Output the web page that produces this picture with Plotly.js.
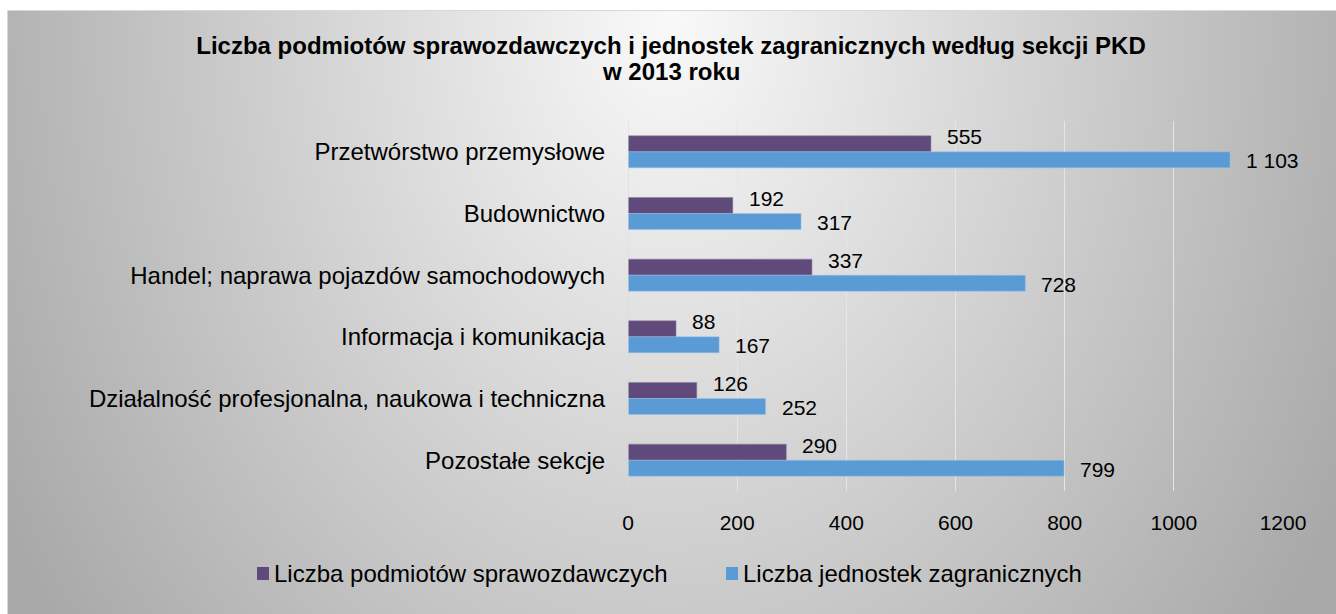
<!DOCTYPE html>
<html>
<head>
<meta charset="utf-8">
<script src="https://cdn.plot.ly/plotly-3.0.1.min.js"></script>
<style>
  html, body { margin: 0; padding: 0; width: 1336px; height: 614px; overflow: hidden; background: #ffffff; }
  #bg { position: absolute; left: 7px; top: 10px; width: 1330px; height: 610px;
        border: 1px solid #d9d9d9; box-sizing: border-box;
        background: radial-gradient(760px 1000px at 661px 10px, #f9f9f9 0%, #a9a9a9 100%); }
  #chart { position: absolute; left: 0; top: 0; width: 1336px; height: 614px; }
</style>
</head>
<body>
<div id="bg"></div>
<div id="chart"></div>
<script>
const categories = [
  "Przetwórstwo przemysłowe",
  "Budownictwo",
  "Handel; naprawa pojazdów samochodowych",
  "Informacja i komunikacja",
  "Działalność profesjonalna, naukowa i techniczna",
  "Pozostałe sekcje"
];
const podmioty = [555, 192, 337, 88, 126, 290];
const jednostki = [1103, 317, 728, 167, 252, 799];
const seriesNames = ["Liczba podmiotów sprawozdawczych", "Liczba jednostek zagranicznych"];
const titleLines = ["Liczba podmiotów sprawozdawczych i jednostek zagranicznych według sekcji PKD", "w 2013 roku"];
const xTicks = [0, 200, 400, 600, 800, 1000, 1200];

function fmt(v) {
  return String(v).replace(/\B(?=(\d{3})+(?!\d))/g, " ");
}

const FONT = "Liberation Sans, Arial, sans-serif";
const colors = ["#604a7b", "#5b9bd5"];
const lineColors = ["#8c7aa3", "#9cc3e6"];

// plot area in pixels (for converting layout positions to paper coords)
const PL = 628, PW = 655, PT = 121, PH = 370;
const px = x => (x - PL) / PW;
const py = y => (PT + PH - y) / PH;

const traces = [
  { type: "bar", orientation: "h", name: seriesNames[0], y: categories, x: podmioty,
    marker: { color: colors[0], line: { color: lineColors[0], width: 0.5 } } },
  { type: "bar", orientation: "h", name: seriesNames[1], y: categories, x: jednostki,
    marker: { color: colors[1], line: { color: lineColors[1], width: 0.5 } } }
];

const annotations = [];
categories.forEach((c, i) => {
  annotations.push({ x: podmioty[i], y: c, xref: "x", yref: "y", text: fmt(podmioty[i]),
    showarrow: false, xanchor: "left", yanchor: "middle", xshift: 14, yshift: 15,
    font: { family: FONT, size: 21, color: "#000" } });
  annotations.push({ x: jednostki[i], y: c, xref: "x", yref: "y", text: fmt(jednostki[i]),
    showarrow: false, xanchor: "left", yanchor: "middle", xshift: 14, yshift: -9,
    font: { family: FONT, size: 21, color: "#000" } });
});
annotations.push({ x: px(671), y: py(71), xref: "paper", yref: "paper",
  text: "<b>" + titleLines[1] + "</b>", showarrow: false, xanchor: "center", yanchor: "middle",
  font: { family: FONT, size: 24, color: "#000" } });

// legend (squares + names)
const legendX = [257, 726];
const shapes = [{ type: "line", xref: "x", yref: "paper", x0: 0, x1: 0, y0: 0, y1: 1,
  line: { color: "#d9d9d9", width: 1 } }];
seriesNames.forEach((n, i) => {
  shapes.push({ type: "rect", xref: "paper", yref: "paper",
    x0: px(legendX[i]), x1: px(legendX[i] + 12), y0: py(580), y1: py(567),
    fillcolor: colors[i], line: { width: 0 } });
  annotations.push({ x: px(legendX[i] + 15), y: py(573), xref: "paper", yref: "paper",
    text: n, showarrow: false, xanchor: "left", yanchor: "middle", align: "left",
    font: { family: FONT, size: 24, color: "#000" } });
});

const layout = {
  width: 1336, height: 614,
  paper_bgcolor: "rgba(0,0,0,0)", plot_bgcolor: "rgba(0,0,0,0)",
  margin: { l: PL, r: 1336 - PL - PW, t: PT, b: 614 - PT - PH },
  title: { text: "<b>" + titleLines[0] + "</b>",
    x: 671 / 1336, xref: "container", xanchor: "center", y: 1 - 46 / 614, yref: "container", yanchor: "middle",
    font: { family: FONT, size: 24, color: "#000" } },
  barmode: "group", bargap: 0.48, bargroupgap: 0,
  xaxis: { range: [0, 1200], tickvals: xTicks, ticktext: xTicks.map(String),
    showgrid: true, gridcolor: "#e6e6e6", gridwidth: 1, zeroline: false, showline: false,
    ticks: "outside", ticklen: 13, tickcolor: "rgba(0,0,0,0)",
    tickfont: { family: FONT, size: 21, color: "#000" } },
  yaxis: { type: "category", autorange: "reversed", showgrid: false, zeroline: false, showline: false,
    ticks: "outside", ticklen: 17, tickcolor: "rgba(0,0,0,0)",
    tickfont: { family: FONT, size: 24, color: "#000" } },
  shapes: shapes,
  showlegend: false,
  annotations: annotations
};

Plotly.newPlot("chart", traces, layout, { displayModeBar: false, staticPlot: true });
</script>
</body>
</html>
